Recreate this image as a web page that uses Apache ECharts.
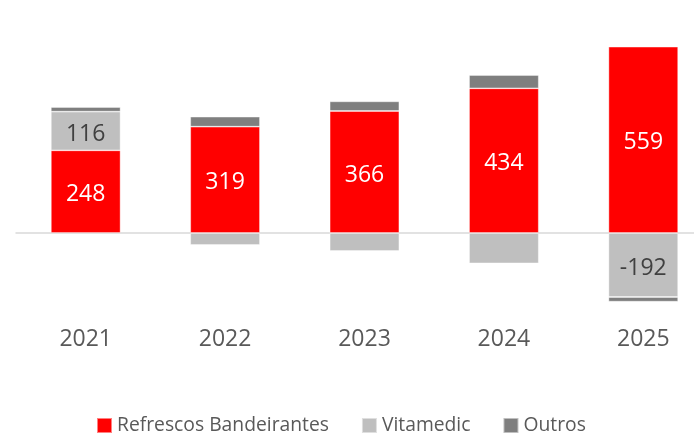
<!DOCTYPE html>
<html>
<head>
<meta charset="utf-8">
<script src="https://cdn.jsdelivr.net/npm/echarts@6/dist/echarts.min.js"></script>
<style>
  html, body { margin: 0; padding: 0; background: #fff; }
  #chart { width: 694px; height: 437px; }
</style>
</head>
<body>
<div id="chart"></div>
<script>
const years = ['2021', '2022', '2023', '2024', '2025']
const refrescos = [248, 319, 366, 434, 559]
const vitamedic = [116, -36, -54, -91, -192]
const outros = [14, 30, 29, 40, -14]

const font = 'Open Sans'

// só os valores grandes levam rótulo
const labelFmt = p => (Math.abs(p.value) >= 100 ? String(p.value) : '')

const barSeries = (name, data, color, textColor) => ({
  name: name,
  type: 'bar',
  stack: 'total',
  barWidth: '50%',
  data: data,
  itemStyle: { color: color, borderColor: 'rgba(255,255,255,0.5)', borderWidth: 0.8 },
  label: {
    show: true,
    position: 'inside',
    offset: [0, 3],
    formatter: labelFmt,
    color: textColor,
    fontFamily: font,
    fontSize: 23
  },
  emphasis: { disabled: true }
})

const chart = echarts.init(document.getElementById('chart'))
chart.setOption({
  animation: false,
  grid: { left: 16, width: 697, top: 33, height: 290, outerBoundsMode: 'none', containLabel: false },
  legend: {
    left: 96,
    top: 416,
    padding: 0,
    itemWidth: 15,
    itemHeight: 15,
    itemGap: 32,
    icon: 'rect',
    textStyle: { color: '#595959', fontFamily: font, fontSize: 19.3 },
    data: ['Refrescos Bandeirantes', 'Vitamedic', 'Outros']
  },
  xAxis: [
    {
      type: 'category',
      data: years,
      position: 'top',
      axisLine: { onZero: true, lineStyle: { color: '#D9D9D9', width: 1.5 } },
      axisTick: { show: false },
      axisLabel: { show: false }
    },
    {
      type: 'category',
      data: years,
      position: 'bottom',
      axisLine: { show: false, onZero: false },
      axisTick: { show: false },
      axisLabel: { color: '#595959', fontFamily: font, fontSize: 23, margin: 5 }
    }
  ],
  yAxis: {
    type: 'value',
    min: -270,
    max: 600,
    show: false,
    splitLine: { show: false }
  },
  series: [
    barSeries('Refrescos Bandeirantes', refrescos, '#FF0000', '#FFFFFF'),
    barSeries('Vitamedic', vitamedic, '#BFBFBF', '#404040'),
    barSeries('Outros', outros, '#7F7F7F', '#FFFFFF')
  ]
})
</script>
</body>
</html>
